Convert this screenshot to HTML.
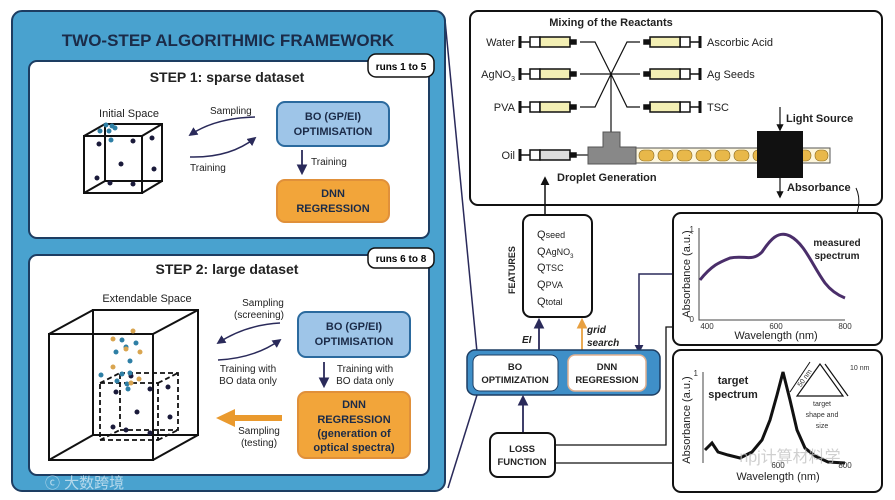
<!DOCTYPE html>
<html><head><meta charset="utf-8"><style>
body{margin:0;background:#fff}
svg{display:block}
text{font-family:"Liberation Sans",Arial,sans-serif}
</style></head><body>
<svg width="895" height="500" viewBox="0 0 895 500" xmlns="http://www.w3.org/2000/svg">
<defs>
<marker id="ah" viewBox="0 0 10 10" refX="8" refY="5" markerWidth="6" markerHeight="6" orient="auto"><path d="M0,0 L10,5 L0,10 z" fill="#2a2a5a"/></marker>
<marker id="ak" viewBox="0 0 10 10" refX="8" refY="5" markerWidth="6" markerHeight="6" orient="auto"><path d="M0,0 L10,5 L0,10 z" fill="#111"/></marker>
<marker id="ao" viewBox="0 0 10 10" refX="8" refY="5" markerWidth="6" markerHeight="6" orient="auto"><path d="M0,0 L10,5 L0,10 z" fill="#e8a040"/></marker>
</defs>
<line x1="445" y1="20" x2="477" y2="352" stroke="#2a2a5a" stroke-width="1.5"/>
<line x1="477" y1="395" x2="448" y2="488" stroke="#2a2a5a" stroke-width="1.5"/>
<rect x="12" y="11" width="433" height="480" rx="10" fill="#49a2cf" stroke="#1d3d62" stroke-width="2"/>
<text x="228" y="46" font-size="17" font-weight="bold" fill="#1b2b48" text-anchor="middle">TWO-STEP ALGORITHMIC FRAMEWORK</text>
<rect x="29" y="61" width="400" height="177" rx="8" fill="#fff" stroke="#1d3d62" stroke-width="2"/>
<rect x="368" y="54" width="66" height="23" rx="8" fill="#fff" stroke="#111" stroke-width="1.5"/>
<text x="401" y="70" font-size="10" font-weight="bold" text-anchor="middle">runs 1 to 5</text>
<text x="227" y="82" font-size="14" font-weight="bold" fill="#222" text-anchor="middle">STEP 1: sparse dataset</text>
<text x="129" y="117" font-size="11" fill="#222" text-anchor="middle">Initial Space</text>
<g stroke="#111" stroke-width="2" fill="none">
<rect x="84" y="136" width="58" height="57"/><rect x="105" y="124" width="57" height="57"/>
<line x1="84" y1="136" x2="105" y2="124"/><line x1="142" y1="136" x2="162" y2="124"/><line x1="84" y1="193" x2="105" y2="181"/><line x1="142" y1="193" x2="162" y2="181"/>
</g>
<g fill="#1a1a3a"><circle cx="99" cy="144" r="2.5"/><circle cx="133" cy="141" r="2.5"/><circle cx="152" cy="138" r="2.5"/><circle cx="121" cy="164" r="2.5"/><circle cx="154" cy="169" r="2.5"/><circle cx="97" cy="178" r="2.5"/><circle cx="110" cy="183" r="2.5"/><circle cx="133" cy="184" r="2.5"/></g>
<g fill="#2e7fa5"><circle cx="100" cy="131" r="2.5"/><circle cx="106" cy="125" r="2.5"/><circle cx="115" cy="128" r="2.5"/><circle cx="109" cy="131" r="2.5"/><circle cx="111" cy="140" r="2.5"/><circle cx="112" cy="126" r="2.5"/></g>
<text x="210" y="114" font-size="10" fill="#222">Sampling</text>
<text x="190" y="171" font-size="10" fill="#222">Training</text>
<path d="M255,117 Q215,118 190,135" stroke="#2a2a5a" stroke-width="1.5" fill="none" marker-end="url(#ah)"/>
<path d="M190,157 Q230,158 255,138" stroke="#2a2a5a" stroke-width="1.5" fill="none" marker-end="url(#ah)"/>
<rect x="277" y="102" width="112" height="44" rx="8" fill="#9ec5e8" stroke="#2b6a9e" stroke-width="2"/>
<text x="333" y="120" font-size="11" font-weight="bold" fill="#1b2b48" text-anchor="middle">BO (GP/EI)</text>
<text x="333" y="135" font-size="11" font-weight="bold" fill="#1b2b48" text-anchor="middle">OPTIMISATION</text>
<line x1="302" y1="150" x2="302" y2="173" stroke="#2a2a5a" stroke-width="1.8" marker-end="url(#ah)"/>
<text x="311" y="165" font-size="10" fill="#222">Training</text>
<rect x="277" y="180" width="112" height="42" rx="8" fill="#f2a53a" stroke="#e0903a" stroke-width="2"/>
<text x="333" y="197" font-size="11" font-weight="bold" fill="#1b2b48" text-anchor="middle">DNN</text>
<text x="333" y="212" font-size="11" font-weight="bold" fill="#1b2b48" text-anchor="middle">REGRESSION</text>
<rect x="29" y="255" width="400" height="220" rx="8" fill="#fff" stroke="#1d3d62" stroke-width="2"/>
<rect x="368" y="248" width="66" height="20" rx="7" fill="#fff" stroke="#111" stroke-width="1.5"/>
<text x="401" y="262" font-size="10" font-weight="bold" text-anchor="middle">runs 6 to 8</text>
<text x="227" y="274" font-size="14" font-weight="bold" fill="#222" text-anchor="middle">STEP 2: large dataset</text>
<text x="147" y="302" font-size="11" fill="#222" text-anchor="middle">Extendable Space</text>
<g stroke="#111" stroke-width="2" fill="none">
<rect x="49" y="334" width="104" height="126"/><rect x="93" y="310" width="105" height="125"/>
<line x1="49" y1="334" x2="93" y2="310"/><line x1="153" y1="334" x2="198" y2="310"/><line x1="49" y1="460" x2="93" y2="435"/><line x1="153" y1="460" x2="198" y2="435"/>
</g>
<g stroke="#111" stroke-width="1.8" fill="none" stroke-dasharray="5,3">
<rect x="100" y="383" width="58" height="57"/><rect x="120" y="373" width="58" height="57"/>
<line x1="100" y1="383" x2="120" y2="373"/><line x1="158" y1="383" x2="178" y2="373"/><line x1="100" y1="440" x2="120" y2="430"/><line x1="158" y1="440" x2="178" y2="430"/>
</g>
<g fill="#1a1a3a"><circle cx="116" cy="392" r="2.5"/><circle cx="150" cy="389" r="2.5"/><circle cx="168" cy="387" r="2.5"/><circle cx="137" cy="412" r="2.5"/><circle cx="170" cy="417" r="2.5"/><circle cx="113" cy="427" r="2.5"/><circle cx="126" cy="430" r="2.5"/><circle cx="150" cy="433" r="2.5"/><circle cx="131" cy="376" r="2.5"/></g>
<g fill="#2e7fa5"><circle cx="122" cy="340" r="2.5"/><circle cx="136" cy="343" r="2.5"/><circle cx="116" cy="352" r="2.5"/><circle cx="130" cy="361" r="2.5"/><circle cx="101" cy="375" r="2.5"/><circle cx="122" cy="374" r="2.5"/><circle cx="130" cy="373" r="2.5"/><circle cx="117" cy="381" r="2.5"/><circle cx="127" cy="384" r="2.5"/><circle cx="128" cy="389" r="2.5"/><circle cx="126" cy="347" r="2.5"/></g>
<g fill="#d9a550"><circle cx="133" cy="331" r="2.5"/><circle cx="113" cy="339" r="2.5"/><circle cx="126" cy="349" r="2.5"/><circle cx="140" cy="352" r="2.5"/><circle cx="113" cy="367" r="2.5"/><circle cx="139" cy="379" r="2.5"/><circle cx="131" cy="383" r="2.5"/></g>
<text x="263" y="306" font-size="10" fill="#222" text-anchor="middle">Sampling</text>
<text x="259" y="318" font-size="10" fill="#222" text-anchor="middle">(screening)</text>
<path d="M280,323 Q245,325 218,343" stroke="#2a2a5a" stroke-width="1.5" fill="none" marker-end="url(#ah)"/>
<path d="M218,360 Q255,358 280,340" stroke="#2a2a5a" stroke-width="1.5" fill="none" marker-end="url(#ah)"/>
<text x="248" y="372" font-size="10" fill="#222" text-anchor="middle">Training with</text>
<text x="248" y="384" font-size="10" fill="#222" text-anchor="middle">BO data only</text>
<rect x="298" y="312" width="112" height="45" rx="8" fill="#9ec5e8" stroke="#2b6a9e" stroke-width="2"/>
<text x="354" y="330" font-size="11" font-weight="bold" fill="#1b2b48" text-anchor="middle">BO (GP/EI)</text>
<text x="354" y="345" font-size="11" font-weight="bold" fill="#1b2b48" text-anchor="middle">OPTIMISATION</text>
<line x1="324" y1="362" x2="324" y2="386" stroke="#2a2a5a" stroke-width="1.8" marker-end="url(#ah)"/>
<text x="365" y="372" font-size="10" fill="#222" text-anchor="middle">Training with</text>
<text x="365" y="384" font-size="10" fill="#222" text-anchor="middle">BO data only</text>
<rect x="298" y="392" width="112" height="66" rx="8" fill="#f2a53a" stroke="#e0903a" stroke-width="2"/>
<text x="354" y="408" font-size="11" font-weight="bold" fill="#1b2b48" text-anchor="middle">DNN</text>
<text x="354" y="423" font-size="11" font-weight="bold" fill="#1b2b48" text-anchor="middle">REGRESSION</text>
<text x="354" y="437" font-size="11" font-weight="bold" fill="#1b2b48" text-anchor="middle">(generation of</text>
<text x="354" y="451" font-size="11" font-weight="bold" fill="#1b2b48" text-anchor="middle">optical spectra)</text>
<line x1="282" y1="418" x2="232" y2="418" stroke="#ea9a2e" stroke-width="6"/>
<path d="M235,409 L216,418 L235,427 z" fill="#ea9a2e"/>
<text x="259" y="434" font-size="10" fill="#222" text-anchor="middle">Sampling</text>
<text x="259" y="446" font-size="10" fill="#222" text-anchor="middle">(testing)</text>
<text x="45" y="488" font-size="15" fill="#cfe6f3" opacity="0.8" font-family="Liberation Sans,Noto Sans CJK SC,sans-serif">ⓒ 大数跨境</text>
<rect x="470" y="11" width="412" height="194" rx="8" fill="#fff" stroke="#111" stroke-width="2"/>
<text x="611" y="26" font-size="11" font-weight="bold" fill="#222" text-anchor="middle">Mixing of the Reactants</text>
<g stroke="#111" stroke-width="1.2" fill="none">
<path d="M580,42 L595,42 L611,74 M580,74 L640,74 M580,107 L595,107 L611,74 L627,42 L640,42 M611,74 L627,107 L640,107 M611,74 L611,138"/>
</g>
<g stroke="#111" stroke-width="1.5">
<g transform="translate(0,42)"><line x1="520" y1="-6" x2="520" y2="6" stroke-width="3"/><line x1="520" y1="0" x2="530" y2="0"/><rect x="530" y="-5" width="10" height="10" fill="#fff"/><rect x="540" y="-5" width="30" height="10" fill="#f3efb4"/><rect x="570" y="-2" width="6" height="4" fill="#111"/></g>
<g transform="translate(0,74)"><line x1="520" y1="-6" x2="520" y2="6" stroke-width="3"/><line x1="520" y1="0" x2="530" y2="0"/><rect x="530" y="-5" width="10" height="10" fill="#fff"/><rect x="540" y="-5" width="30" height="10" fill="#f3efb4"/><rect x="570" y="-2" width="6" height="4" fill="#111"/></g>
<g transform="translate(0,107)"><line x1="520" y1="-6" x2="520" y2="6" stroke-width="3"/><line x1="520" y1="0" x2="530" y2="0"/><rect x="530" y="-5" width="10" height="10" fill="#fff"/><rect x="540" y="-5" width="30" height="10" fill="#f3efb4"/><rect x="570" y="-2" width="6" height="4" fill="#111"/></g>
<g transform="translate(0,155)"><line x1="520" y1="-6" x2="520" y2="6" stroke-width="3"/><line x1="520" y1="0" x2="530" y2="0"/><rect x="530" y="-5" width="10" height="10" fill="#fff"/><rect x="540" y="-5" width="30" height="10" fill="#ddd"/><rect x="570" y="-2" width="6" height="4" fill="#111"/><line x1="576" y1="0" x2="588" y2="0" stroke-width="1.2"/></g>
<g transform="translate(0,42)"><line x1="700" y1="-6" x2="700" y2="6" stroke-width="3"/><line x1="690" y1="0" x2="700" y2="0"/><rect x="680" y="-5" width="10" height="10" fill="#fff"/><rect x="650" y="-5" width="30" height="10" fill="#f3efb4"/><rect x="644" y="-2" width="6" height="4" fill="#111"/></g>
<g transform="translate(0,74)"><line x1="700" y1="-6" x2="700" y2="6" stroke-width="3"/><line x1="690" y1="0" x2="700" y2="0"/><rect x="680" y="-5" width="10" height="10" fill="#fff"/><rect x="650" y="-5" width="30" height="10" fill="#f3efb4"/><rect x="644" y="-2" width="6" height="4" fill="#111"/></g>
<g transform="translate(0,107)"><line x1="700" y1="-6" x2="700" y2="6" stroke-width="3"/><line x1="690" y1="0" x2="700" y2="0"/><rect x="680" y="-5" width="10" height="10" fill="#fff"/><rect x="650" y="-5" width="30" height="10" fill="#f3efb4"/><rect x="644" y="-2" width="6" height="4" fill="#111"/></g>
</g>
<g font-size="11" fill="#222">
<text x="515" y="46" text-anchor="end">Water</text>
<text x="515" y="78" text-anchor="end">AgNO<tspan font-size="7" dy="3">3</tspan></text>
<text x="515" y="111" text-anchor="end">PVA</text>
<text x="515" y="159" text-anchor="end">Oil</text>
<text x="707" y="46">Ascorbic Acid</text>
<text x="707" y="78">Ag Seeds</text>
<text x="707" y="111">TSC</text>
</g>
<rect x="636" y="148" width="194" height="15" fill="#fdf6dc" stroke="#555" stroke-width="1"/>
<g fill="#e8b84a" stroke="#8a6a20" stroke-width="0.6">
<rect x="639" y="150" width="15" height="11" rx="5"/><rect x="658" y="150" width="15" height="11" rx="5"/><rect x="677" y="150" width="15" height="11" rx="5"/><rect x="696" y="150" width="15" height="11" rx="5"/><rect x="715" y="150" width="15" height="11" rx="5"/><rect x="734" y="150" width="15" height="11" rx="5"/><rect x="753" y="150" width="15" height="11" rx="5"/><rect x="797" y="150" width="14" height="11" rx="5"/><rect x="815" y="150" width="13" height="11" rx="5"/>
</g>
<path d="M588,147 L603,147 L603,132 L620,132 L620,147 L636,147 L636,164 L588,164 z" fill="#888" stroke="#555" stroke-width="1"/>
<rect x="757" y="131" width="46" height="47" fill="#111"/>
<line x1="780" y1="107" x2="780" y2="130" stroke="#111" stroke-width="1.2" marker-end="url(#ak)"/>
<line x1="780" y1="178" x2="780" y2="197" stroke="#111" stroke-width="1.2" marker-end="url(#ak)"/>
<text x="786" y="122" font-size="11" font-weight="bold" fill="#222">Light Source</text>
<text x="787" y="191" font-size="11" font-weight="bold" fill="#222">Absorbance</text>
<text x="557" y="181" font-size="11" font-weight="bold" fill="#222">Droplet Generation</text>
<path d="M856,188 Q864,205 850,228" stroke="#111" stroke-width="1" fill="none" marker-end="url(#ak)"/>
<line x1="545" y1="215" x2="545" y2="178" stroke="#111" stroke-width="1.5" marker-end="url(#ak)"/>
<rect x="523" y="215" width="69" height="102" rx="8" fill="#fff" stroke="#111" stroke-width="2"/>
<g font-size="11" fill="#222"><text x="537" y="238">Q<tspan font-size="9">seed</tspan></text><text x="537" y="255">Q<tspan font-size="9">AgNO</tspan><tspan font-size="6" dy="3">3</tspan></text><text x="537" y="271">Q<tspan font-size="9">TSC</tspan></text><text x="537" y="288">Q<tspan font-size="9">PVA</tspan></text><text x="537" y="305">Q<tspan font-size="9">total</tspan></text></g>
<text x="0" y="0" font-size="9" font-weight="bold" fill="#222" transform="translate(515,294) rotate(-90)">FEATURES</text>
<line x1="539" y1="352" x2="539" y2="320" stroke="#2a2a5a" stroke-width="1.8" marker-end="url(#ah)"/>
<line x1="582" y1="352" x2="582" y2="320" stroke="#e8a040" stroke-width="1.8" marker-end="url(#ao)"/>
<text x="522" y="343" font-size="10" font-weight="bold" font-style="italic" fill="#222">EI</text>
<text x="587" y="333" font-size="10" font-weight="bold" font-style="italic" fill="#222">grid</text>
<text x="587" y="346" font-size="10" font-weight="bold" font-style="italic" fill="#222">search</text>
<polyline points="672,274 639,274 639,352" stroke="#2a2a5a" stroke-width="1.5" fill="none" marker-end="url(#ah)"/>
<rect x="467" y="350" width="193" height="45" rx="8" fill="#3f8fc8" stroke="#1d3d62" stroke-width="1.5"/>
<rect x="473" y="355" width="85" height="36" rx="7" fill="#fff" stroke="#1d3d62" stroke-width="1"/>
<rect x="568" y="355" width="78" height="36" rx="7" fill="#fff" stroke="#e0b090" stroke-width="1.5"/>
<text x="515" y="370" font-size="9.5" font-weight="bold" fill="#222" text-anchor="middle">BO</text>
<text x="515" y="383" font-size="9.5" font-weight="bold" fill="#222" text-anchor="middle">OPTIMIZATION</text>
<text x="607" y="370" font-size="9.5" font-weight="bold" fill="#222" text-anchor="middle">DNN</text>
<text x="607" y="383" font-size="9.5" font-weight="bold" fill="#222" text-anchor="middle">REGRESSION</text>
<line x1="523" y1="433" x2="523" y2="397" stroke="#2a2a5a" stroke-width="1.8" marker-end="url(#ah)"/>
<rect x="490" y="433" width="65" height="44" rx="8" fill="#fff" stroke="#111" stroke-width="2"/>
<text x="522" y="452" font-size="9.5" font-weight="bold" fill="#222" text-anchor="middle">LOSS</text>
<text x="522" y="465" font-size="9.5" font-weight="bold" fill="#222" text-anchor="middle">FUNCTION</text>
<polyline points="556,445 666,445 666,327 673,327" stroke="#111" stroke-width="1.3" fill="none"/>
<line x1="556" y1="463" x2="673" y2="463" stroke="#111" stroke-width="1.3"/>
<rect x="673" y="213" width="209" height="132" rx="8" fill="#fff" stroke="#111" stroke-width="2"/>
<polyline points="699,228 699,320 845,320" stroke="#444" stroke-width="1" fill="none"/>
<text x="694" y="232" font-size="8" fill="#333" text-anchor="end">1</text>
<text x="694" y="322" font-size="8" fill="#333" text-anchor="end">0</text>
<text x="707" y="329" font-size="8" fill="#333" text-anchor="middle">400</text>
<text x="776" y="329" font-size="8" fill="#333" text-anchor="middle">600</text>
<text x="845" y="329" font-size="8" fill="#333" text-anchor="middle">800</text>
<text x="776" y="339" font-size="11" fill="#222" text-anchor="middle">Wavelength (nm)</text>
<text font-size="11" fill="#222" text-anchor="middle" transform="translate(690,274) rotate(-90)">Absorbance (a.u.)</text>
<path d="M700,280 C712,265 720,262 730,258 C745,255 752,262 762,252 C770,240 778,230 790,236 C805,244 812,265 825,283 C832,292 840,296 845,298" stroke="#4a2e6a" stroke-width="3" fill="none"/>
<text x="837" y="246" font-size="10" font-weight="bold" fill="#222" text-anchor="middle">measured</text>
<text x="837" y="259" font-size="10" font-weight="bold" fill="#222" text-anchor="middle">spectrum</text>
<rect x="673" y="350" width="209" height="142" rx="8" fill="#fff" stroke="#111" stroke-width="2"/>
<line x1="703" y1="372" x2="703" y2="463" stroke="#444" stroke-width="1"/>
<text x="698" y="376" font-size="8" fill="#333" text-anchor="end">1</text>
<text font-size="11" fill="#222" text-anchor="middle" transform="translate(690,420) rotate(-90)">Absorbance (a.u.)</text>
<text x="733" y="384" font-size="11" font-weight="bold" fill="#222" text-anchor="middle">target</text>
<text x="733" y="398" font-size="11" font-weight="bold" fill="#222" text-anchor="middle">spectrum</text>
<path d="M705,450 L712,443 L718,452 L728,455 L740,458 L752,452 L762,440 L770,420 L777,395 L783,372 L790,400 L797,430 L805,448 L815,456 L828,462 L845,463" stroke="#111" stroke-width="3" fill="none"/>
<text x="778" y="480" font-size="11" fill="#222" text-anchor="middle">Wavelength (nm)</text>
<text x="778" y="468" font-size="8" fill="#333" text-anchor="middle">600</text>
<text x="845" y="468" font-size="8" fill="#333" text-anchor="middle">800</text>
<path d="M820,364 L797,396 L843,396 z" stroke="#111" stroke-width="1.2" fill="none"/>
<path d="M825,364 L848,396" stroke="#111" stroke-width="1.2" fill="none"/>
<line x1="810" y1="362" x2="790" y2="392" stroke="#111" stroke-width="1"/>
<text x="795" y="380" font-size="7" fill="#333" transform="rotate(-55 805 378)">50 nm</text>
<text x="850" y="370" font-size="7" fill="#333">10 nm</text>
<text x="822" y="406" font-size="7" fill="#333" text-anchor="middle">target</text>
<text x="822" y="417" font-size="7" fill="#333" text-anchor="middle">shape and</text>
<text x="822" y="428" font-size="7" fill="#333" text-anchor="middle">size</text>
<text x="790" y="462" font-size="16" fill="#bbb" opacity="0.7" font-family="Liberation Sans,Noto Sans CJK SC,sans-serif" text-anchor="middle">npj计算材料学</text>
</svg>
</body></html>
